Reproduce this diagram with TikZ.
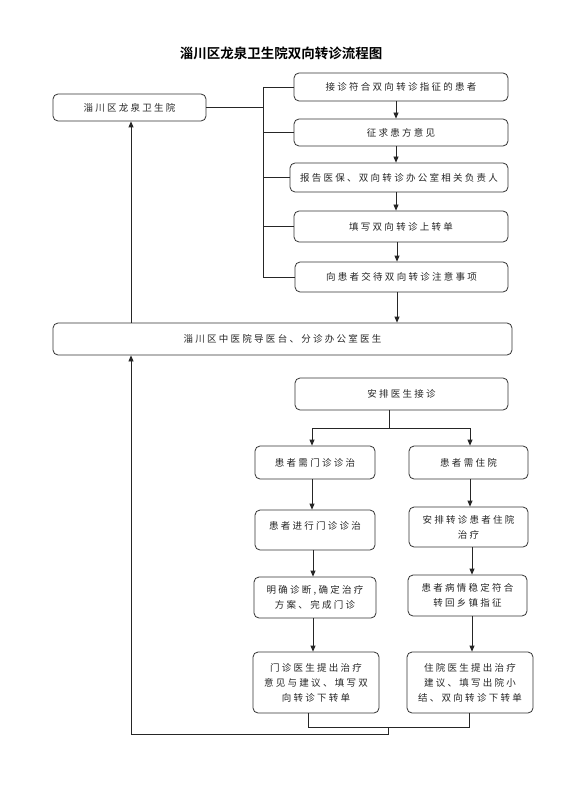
\documentclass[tikz,border=0pt]{standalone}
\usepackage{fontspec}
\setmainfont[BoldFont={Noto Sans CJK SC Bold}]{Noto Sans CJK SC}
\newfontfamily\cjkbox[LetterSpace=24]{Noto Sans CJK SC}
\usetikzlibrary{arrows.meta}
\begin{document}
\begin{tikzpicture}[x=1pt,y=-1pt,
  box/.style={draw=black!80, line width=0.8pt, rounded corners=5pt, inner sep=0pt,
    align=center, text=black!85, font=\cjkbox\fontsize{9.5}{15}\selectfont},
  conn/.style={draw=black!85, line width=0.8pt},
  arr/.style={conn, -{Triangle[length=6pt,width=5pt]}}]
\fill[white] (0,0) rectangle (572,786);
\useasboundingbox (0,0) rectangle (572,786);

\node[font=\bfseries\fontsize{13.5}{16}\selectfont] (title) at (281,53) {淄川区龙泉卫生院双向转诊流程图};

\node[box, minimum width=153pt, minimum height=27pt] (b1) at (129.5,107.5) {淄川区龙泉卫生院};
\node[box, minimum width=214pt, minimum height=28pt] (A) at (401,87) {接诊符合双向转诊指征的患者};
\node[box, minimum width=214pt, minimum height=27pt] (B) at (401,132.5) {征求患方意见};
\node[box, minimum width=218pt, minimum height=29pt] (C) at (399,177.5) {报告医保、双向转诊办公室相关负责人};
\node[box, minimum width=214pt, minimum height=31pt] (D) at (401,226.5) {填写双向转诊上转单};
\node[box, minimum width=213pt, minimum height=30pt] (E) at (401.5,277) {向患者交待双向转诊注意事项};
\node[box, minimum width=459pt, minimum height=32pt] (F) at (282.5,339) {淄川区中医院导医台、分诊办公室医生};
\node[box, minimum width=213pt, minimum height=32pt] (G) at (401.5,394) {安排医生接诊};

\node[box, minimum width=120pt, minimum height=33pt] (H) at (315,462.5) {患者需门诊诊治};
\node[box, minimum width=119pt, minimum height=33pt] (I) at (468.5,462.5) {患者需住院};
\node[box, minimum width=120pt, minimum height=40pt] (J) at (315,530) {};
\node[text=black!85, font=\cjkbox\fontsize{9.5}{15}\selectfont, inner sep=0pt] (Jt) at (315,526) {患者进行门诊诊治};
\node[box, minimum width=119pt, minimum height=40pt] (K) at (468.5,527) {安排转诊患者住院\\治疗};
\node[box, minimum width=122pt, minimum height=41pt] (L) at (315,597.5) {明确诊断,确定治疗\\方案、完成门诊};
\node[box, minimum width=119pt, minimum height=41pt] (M) at (467.5,595.5) {患者病情稳定符合\\转回乡镇指征};
\node[box, minimum width=126pt, minimum height=61pt] (N) at (316,682.5) {门诊医生提出治疗\\意见与建议、填写双\\向转诊下转单};
\node[box, minimum width=126pt, minimum height=61pt] (O) at (470,682.5) {住院医生提出治疗\\建议、填写出院小\\结、双向转诊下转单};

% bracket on the right of the top block
\coordinate (bx) at (263,0);
\draw[conn] (b1.east) -- (b1.east -| bx);
\draw[conn] (A.west -| bx) -- (E.west -| bx);
\foreach \n in {A,B,C,D,E} \draw[conn] (\n.west -| bx) -- (\n.west);

% top chain arrows
\coordinate (ax) at (396,0);
\draw[arr] (A.south -| ax) -- (B.north -| ax);
\draw[arr] (B.south -| ax) -- (C.north -| ax);
\draw[arr] (C.south -| ax) -- (D.north -| ax);
\coordinate (ax2) at (397,0);
\draw[arr] (D.south -| ax2) -- (E.north -| ax2);
\draw[arr] (E.south -| ax2) -- (F.north -| ax2);

% F up to b1
\coordinate (lx) at (131,0);
\draw[arr] (F.north -| lx) -- (b1.south -| lx);

% G split
\coordinate (gx) at (389,0);
\coordinate (sy) at (0,428);
\coordinate (hx) at (312,0);
\coordinate (ix) at (470,0);
\draw[conn] (G.south -| gx) -- (gx |- sy);
\draw[conn] (hx |- sy) -- (ix |- sy);
\draw[arr] (hx |- sy) -- (H.north -| hx);
\draw[arr] (ix |- sy) -- (I.north -| ix);

% columns
\draw[arr] (H.south -| hx) -- (J.north -| hx);
\draw[arr] (I.south -| ix) -- (K.north -| ix);
\coordinate (hx2) at (313,0);
\coordinate (ix2) at (472,0);
\draw[arr] (J.south -| hx2) -- (L.north -| hx2);
\draw[arr] (K.south -| ix2) -- (M.north -| ix2);
\draw[arr] (L.south -| hx2) -- (N.north -| hx2);
\draw[arr] (M.south -| ix2) -- (O.north -| ix2);

% bottom return
\coordinate (nx) at (308,0);
\coordinate (ox) at (469,0);
\coordinate (by) at (0,727);
\coordinate (mx) at (388,0);
\coordinate (ry) at (0,734);
\draw[conn] (N.south -| nx) -- (nx |- by) -- (ox |- by) -- (O.south -| ox);
\draw[conn] (mx |- by) -- (mx |- ry) -- (lx |- ry);
\draw[arr] (lx |- ry) -- (F.south -| lx);
\end{tikzpicture}
\end{document}
